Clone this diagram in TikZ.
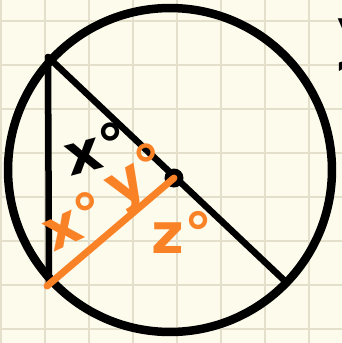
\documentclass[tikz,border=0pt]{standalone}
\usepackage{fontspec}
\setmainfont{DejaVu Sans}
\usepackage{xcolor}
\usepackage{tikz}
\usetikzlibrary{positioning}

\definecolor{paper}{HTML}{FDFBEC}
\definecolor{gridcol}{HTML}{E4DFCB}
\definecolor{pen}{HTML}{FA8226}

\begin{document}
\begin{tikzpicture}[
  x=0.02cm, y=-0.02cm,
  gridline/.style={gridcol, line width=0.03cm},
  inkline/.style={black, line width=0.13cm, line cap=round},
  penline/.style={pen, line width=0.14cm, line cap=round},
  rim/.style={circle, draw, line width=0.17cm, inner sep=0pt, minimum size=6.48cm},
  dot/.style={circle, fill=black, inner sep=0pt, minimum size=0.38cm},
  lbl/.style={font=\fontsize{32}{32}\selectfont\bfseries, inner sep=0pt}
]
\useasboundingbox (0,0) rectangle (342,343);
\fill[paper] (0,0) rectangle (342,343);
\begin{scope}
\clip (0,0) rectangle (342,343);
\foreach \k in {0,...,7} {
  \draw[gridline] ({1+44*\k},0) -- ({1+44*\k},343);
  \draw[gridline] (0,{21+44*\k}) -- (342,{21+44*\k});
}
% cut-off notes at the right edge
\node[lbl, anchor=west] (ynote) at (337,40) {y};
\node[lbl, anchor=west] (qnote) at (335,82) {?};
\end{scope}

\node[rim] (circ) at (170,170) {};
\coordinate (A) at (48,57);
\coordinate (B) at (49,284);
\coordinate (C) at (287,283);
\coordinate (Bo) at (47,286);
\node[dot] (O) at (174,178) {};

\draw[inkline] (A) -- (B);
\draw[inkline] (A) -- (C);
\draw[penline] (Bo) -- (O.center);

% angle labels
\node[lbl, rotate=15] (xtop) at (96,148) {x°};
\node[lbl, pen, rotate=25] (xlow) at (74,220) {x°};
\node[lbl, pen, rotate=30] (ylow) at (139,178) {y°};
\node[lbl, pen] (zlow) at (182,232) {z°};
\end{tikzpicture}
\end{document}
